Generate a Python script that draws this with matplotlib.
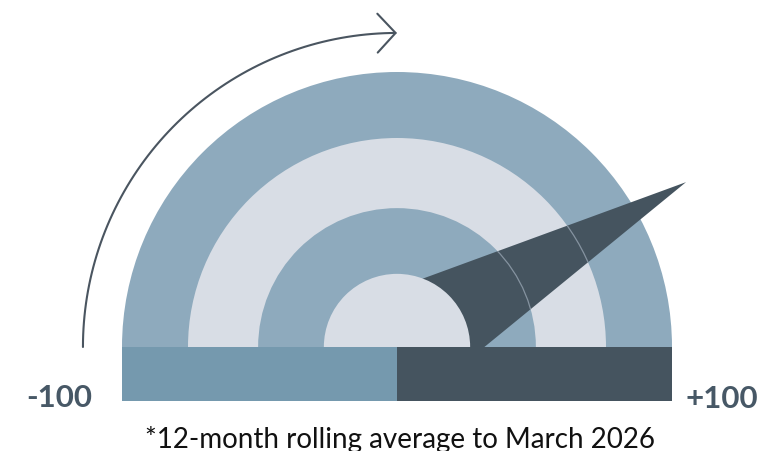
"""Net balance gauge: needle on a -100 to +100 semicircle"""

import numpy as np
import matplotlib
matplotlib.use('Agg')
import matplotlib.pyplot as plt
from matplotlib.patches import Wedge, Polygon, Circle, FancyArrowPatch
from matplotlib.path import Path

# data
gauge_value = 67          # needle reading on the -100..+100 scale
scale_min = -100
scale_max = 100
end_labels = ['-100', '+100']
caption = '*12-month rolling average to March 2026'

# colours
ring_blue = '#8eaabd'
ring_light = '#d8dde5'
bar_left = '#7599ae'
dark = '#45545f'
text_col = '#475866'

# ring radii (outer radius = 1), alternating colours from outside in
ring_radii = [1.0, 0.76, 0.505, 0.266]
ring_cols = [ring_blue, ring_light, ring_blue, ring_light]

fig = plt.figure(figsize=(7.62, 4.52), dpi=100)
ax = fig.add_axes([0, 0, 1, 1])
ax.set_xlim(-397 / 275, 365 / 275)
ax.set_ylim(-104 / 275, 348 / 275)
ax.set_aspect('equal')
ax.axis('off')

# needle angle: -100 -> 180 deg, +100 -> 0 deg
ang = np.radians(90 - 90 * gauge_value / scale_max)
tip_r = 1.21
half_base = 0.204
ux, uy = np.cos(ang), np.sin(ang)
px, py = -uy, ux
needle_pts = [(tip_r * ux, tip_r * uy),
              (half_base * px, half_base * py),
              (-half_base * px, -half_base * py)]

# outer rings, then needle, then innermost disc on top of it
for r, c in zip(ring_radii[:-1], ring_cols[:-1]):
    ax.add_patch(Wedge((0, 0), r, 0, 180, facecolor=c, edgecolor='none', zorder=1))

needle = Polygon(needle_pts, closed=True, facecolor=dark, edgecolor='none', zorder=2)
ax.add_patch(needle)

# faint ring boundaries showing through the needle
for r in ring_radii[1:3]:
    edge = Circle((0, 0), r, fill=False, edgecolor='#8593a0', lw=0.9, zorder=3)
    ax.add_patch(edge)
    edge.set_clip_path(needle)

ax.add_patch(Wedge((0, 0), ring_radii[-1], 0, 180, facecolor=ring_cols[-1],
                   edgecolor='none', zorder=4))

# base bar split at zero
bar_h = 0.196
ax.barh(-bar_h / 2, [0 - scale_min, scale_max - 0], height=bar_h,
        left=[scale_min, 0], color=[bar_left, dark], zorder=5)
# barh works in scale units, so rescale the x of its patches to the gauge radius
for p in ax.patches[-2:]:
    p.set_x(p.get_x() / scale_max)
    p.set_width(p.get_width() / scale_max)

# direction arrow over the gauge
arc_r = 1.142
t = np.linspace(np.pi, np.pi / 2, 80)
arc = Path(np.column_stack([arc_r * np.cos(t), arc_r * np.sin(t)]))
arrow = FancyArrowPatch(path=arc, arrowstyle='->,head_length=1.3,head_width=1.4',
                        mutation_scale=10, color='#4a5560', lw=1.5, zorder=6)
ax.add_patch(arrow)

ax.text(-1.11, -0.2145, end_labels[0], ha='right', va='baseline',
        fontsize=22.5, fontweight='bold', color=text_col, family='Lato')
ax.text(1.05, -0.218, end_labels[1], ha='left', va='baseline',
        fontsize=22.5, fontweight='bold', color=text_col, family='Lato')
ax.text(0.01, -0.364, caption, ha='center', va='baseline',
        fontsize=20, color='#111111', family='Lato')

fig.savefig('out.png', dpi=100)
